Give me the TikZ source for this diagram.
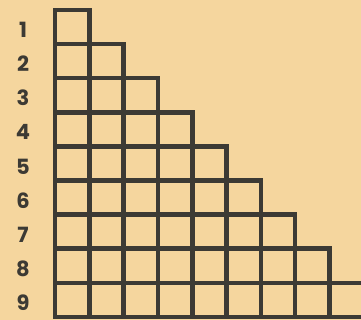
\documentclass[tikz,border=0pt]{standalone}
\usepackage{fontspec}
\setmainfont{Poppins}
\definecolor{paper}{RGB}{245,214,158}
\definecolor{ink}{RGB}{60,58,52}
\tikzset{
  cell/.style={draw=ink, line width=4.6pt, line join=miter},
  rowlabel/.style={text=ink, font=\fontsize{21}{21}\selectfont\bfseries, anchor=center}
}
\begin{document}
\begin{tikzpicture}[x=1pt, y=-1pt]
    % paper and frame of the picture
    \fill[paper] (0,0) rectangle (361,320);
    \useasboundingbox (0,0) rectangle (361,320);
    \clip (0,0) rectangle (361,320);
    % staircase: row i has i squares
    \foreach \i in {1,...,9} {
        \node[rowlabel] (lab\i) at (23, {30+34.1*(\i-1)}) {\i};
        \foreach \j in {1,...,\i} {
            \draw[cell] ({55+34.3*(\j-1)}, {10+34.1*(\i-1)}) rectangle ++(34.3,34.1);
        }
    }
\end{tikzpicture}
\end{document}
